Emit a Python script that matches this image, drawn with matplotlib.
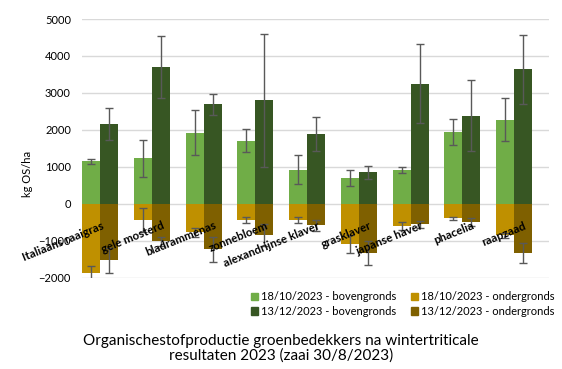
import numpy as np
import matplotlib.pyplot as plt
from matplotlib import transforms
from matplotlib.patches import Patch

plt.rcParams['font.family'] = ['Lato', 'DejaVu Sans']

# gewassen
gewassen = ['Italiaans raaigras', 'gele mosterd', 'bladrammenas', 'zonnebloem',
            'alexandrijnse klaver', 'grasklaver', 'japanse haver', 'phacelia', 'raapzaad']

# kg OS/ha
boven_okt = [1150, 1230, 1930, 1710, 930, 710, 920, 1950, 2280]
boven_okt_err = [70, 500, 600, 320, 390, 215, 80, 350, 580]
boven_dec = [2150, 3700, 2690, 2800, 1900, 850, 3250, 2390, 3640]
boven_dec_err = [430, 830, 280, 1790, 460, 170, 1070, 950, 930]
onder_okt = [-1880, -440, -770, -440, -440, -1090, -600, -390, -850]
onder_okt_err = [210, 330, 130, 80, 80, 250, 110, 35, 75]
onder_dec = [-1520, -1010, -1230, -850, -580, -1335, -550, -500, -1335]
onder_dec_err = [340, 120, 335, 300, 140, 320, 100, 110, 270]

c_bo = '#70AD47'
c_bd = '#375623'
c_oo = '#BF9000'
c_od = '#7F6000'
c_err = '#595959'

fig = plt.figure(figsize=(5.62, 3.69), dpi=100)
ax = fig.add_axes([0.146, 0.247, 0.831, 0.7015])

x = np.arange(len(gewassen))
w = 0.35
ekw = dict(ecolor=c_err, elinewidth=1, capsize=3, capthick=1)

ax.bar(x - w / 2, boven_okt, w, color=c_bo, yerr=boven_okt_err, error_kw=ekw, zorder=2)
ax.bar(x + w / 2, boven_dec, w, color=c_bd, yerr=boven_dec_err, error_kw=ekw, zorder=2)
ax.bar(x - w / 2, onder_okt, w, color=c_oo, yerr=onder_okt_err, error_kw=ekw, zorder=2)
ax.bar(x + w / 2, onder_dec, w, color=c_od, yerr=onder_dec_err, error_kw=ekw, zorder=2)

ax.set_ylim(-2000, 5000)
ax.set_xlim(-w, len(gewassen) - 1 + 0.676)
ax.set_yticks(np.arange(-2000, 5001, 1000))
ax.yaxis.grid(True, color='#D9D9D9', linewidth=1, zorder=0)
ax.set_axisbelow(True)
ax.set_xticks([])
for s in ax.spines.values():
    s.set_visible(False)
ax.tick_params(axis='y', length=0, labelsize=8, pad=8)
ax.set_ylabel('kg OS/ha', fontsize=8)
ax.yaxis.set_label_coords(-0.105, 0.4)

# categorie-labels schuin onder de nullijn
trans = transforms.offset_copy(ax.transData, fig=fig, x=7, y=-11.5, units='points')
for i, g in enumerate(gewassen):
    dx = -6 if i == 0 else 0
    t = transforms.offset_copy(trans, fig=fig, x=dx, y=0, units='points')
    ax.text(i, 0, g, transform=t, rotation=22, rotation_mode='anchor',
            ha='right', va='top', fontsize=8.3, fontweight='bold')

handles = [Patch(color=c_bo), Patch(color=c_bd), Patch(color=c_oo), Patch(color=c_od)]
labels = ['18/10/2023 - bovengronds', '13/12/2023 - bovengronds',
          '18/10/2023 - ondergronds', '13/12/2023 - ondergronds']
fig.legend(handles, labels, ncol=2, loc='center left', bbox_to_anchor=(0.428, 0.176),
           frameon=False, fontsize=8, handlelength=0.65, handleheight=0.65,
           handletextpad=0.3, columnspacing=1.3, labelspacing=0.35)

fig.text(0.5, 0.055, 'Organischestofproductie groenbedekkers na wintertriticale\nresultaten 2023 (zaai 30/8/2023)',
         ha='center', va='center', fontsize=11, linespacing=1.05)

fig.savefig('out.png', dpi=100)
